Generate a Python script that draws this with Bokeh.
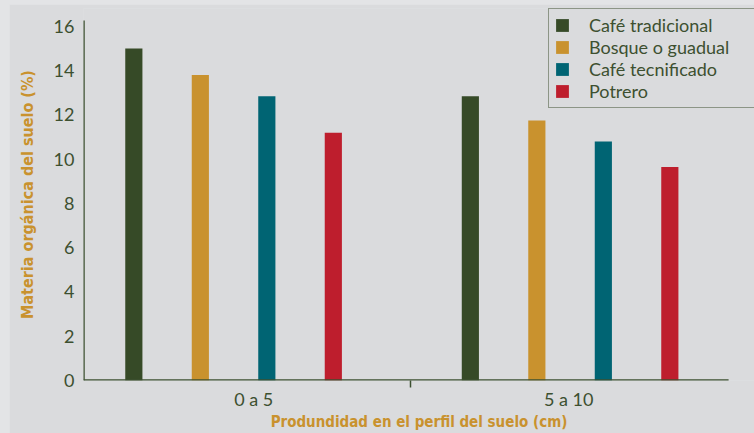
from bokeh.plotting import figure
from bokeh.models import Range1d, FixedTicker, Legend, LegendItem, ColumnDataSource
from bokeh.layouts import column
from bokeh.embed import file_html
from bokeh.resources import INLINE

groups = ["0 a 5", "5 a 10"]
series = ["Café tradicional", "Bosque o guadual", "Café tecnificado", "Potrero"]
cafe_tradicional = [15.0, 12.85]
bosque_guadual = [13.8, 11.75]
cafe_tecnificado = [12.85, 10.8]
potrero = [11.2, 9.65]
values = [cafe_tradicional, bosque_guadual, cafe_tecnificado, potrero]
colors = ["#364a27", "#c9922e", "#006473", "#be1e2d"]
y_ticks = [0, 2, 4, 6, 8, 10, 12, 14, 16]

panel = "#dadbdd"
outer = "#e3e4e6"
ink = "#3d5030"
accent = "#c9922e"
cond = "'DejaVu Sans Condensed', 'Roboto Condensed', Roboto, sans-serif"

# axis extents (data units)
x_start, x_axis_end, x_end = -0.446, 1.471, 1.548
y_axis_top, y_end = 16.27, 16.81

p = figure(width=745, height=429, output_backend="svg", toolbar_location=None,
           x_range=Range1d(x_start, x_end), y_range=Range1d(0, y_end),
           min_border_left=74, min_border_right=0, min_border_top=4, min_border_bottom=52,
           background_fill_color=panel, border_fill_color=panel, outline_line_color=None)
p.margin = (4, 0, 0, 9)

step = 0.1976
bw = 0.051
items = []
for j, (name, vals, c) in enumerate(zip(series, values, colors)):
    xs = [i + (j - 1.5) * step for i in range(len(groups))]
    src = ColumnDataSource(dict(x=xs, top=vals))
    r = p.vbar(x="x", top="top", width=bw, bottom=0, source=src, fill_color=c, line_color=None)
    items.append(LegendItem(label=name, renderers=[r]))

# axis lines
p.segment(x0=[x_start, x_start], y0=[0, 0], x1=[x_start, x_axis_end], y1=[y_axis_top, 0],
          line_color=ink, line_width=2.5)

p.grid.visible = False

yax = p.yaxis[0]
yax.ticker = FixedTicker(ticks=y_ticks)
yax.axis_line_color = None
yax.major_tick_line_color = None
yax.major_tick_out = 0
yax.major_tick_in = 0
yax.minor_tick_line_color = None
yax.major_label_text_font = "Lato"
yax.major_label_text_font_size = "18px"
yax.major_label_text_color = ink
yax.major_label_standoff = 9
yax.axis_label = "Materia orgánica del suelo (%)"
yax.axis_label_text_font = cond
yax.axis_label_text_font_style = "bold"
yax.axis_label_text_font_size = "16px"
yax.axis_label_text_color = accent
yax.axis_label_standoff = 14

label_pos = [0.06, 0.996]
xax = p.xaxis[0]
xax.ticker = FixedTicker(ticks=label_pos, minor_ticks=[0.526])
xax.major_label_overrides = {label_pos[0]: groups[0], label_pos[1]: groups[1]}
xax.axis_line_color = None
xax.major_tick_line_color = None
xax.major_tick_out = 0
xax.major_tick_in = 0
xax.minor_tick_line_color = ink
xax.minor_tick_line_width = 1.5
xax.minor_tick_out = 7
xax.minor_tick_in = 0
xax.major_label_text_font = "Lato"
xax.major_label_text_font_size = "18px"
xax.major_label_text_color = ink
xax.major_label_standoff = 0
xax.axis_label = "Produndidad en el perfil del suelo (cm)"
xax.axis_label_text_font = cond
xax.axis_label_text_font_style = "bold"
xax.axis_label_text_font_size = "15px"
xax.axis_label_text_color = accent
xax.axis_label_standoff = 0

legend = Legend(items=items, location=(465, 272),
                label_text_font="Lato", label_text_font_size="18px", label_text_color=ink,
                glyph_width=16, glyph_height=16, label_height=21, label_standoff=19,
                label_width=200, spacing=0, padding=5, margin=0,
                border_line_color=ink, border_line_width=1.5,
                background_fill_color=panel, background_fill_alpha=1)
p.add_layout(legend)

layout = column(p, width=754, height=433, styles={"background-color": outer})
open("out.html", "w").write(file_html(layout, INLINE))
